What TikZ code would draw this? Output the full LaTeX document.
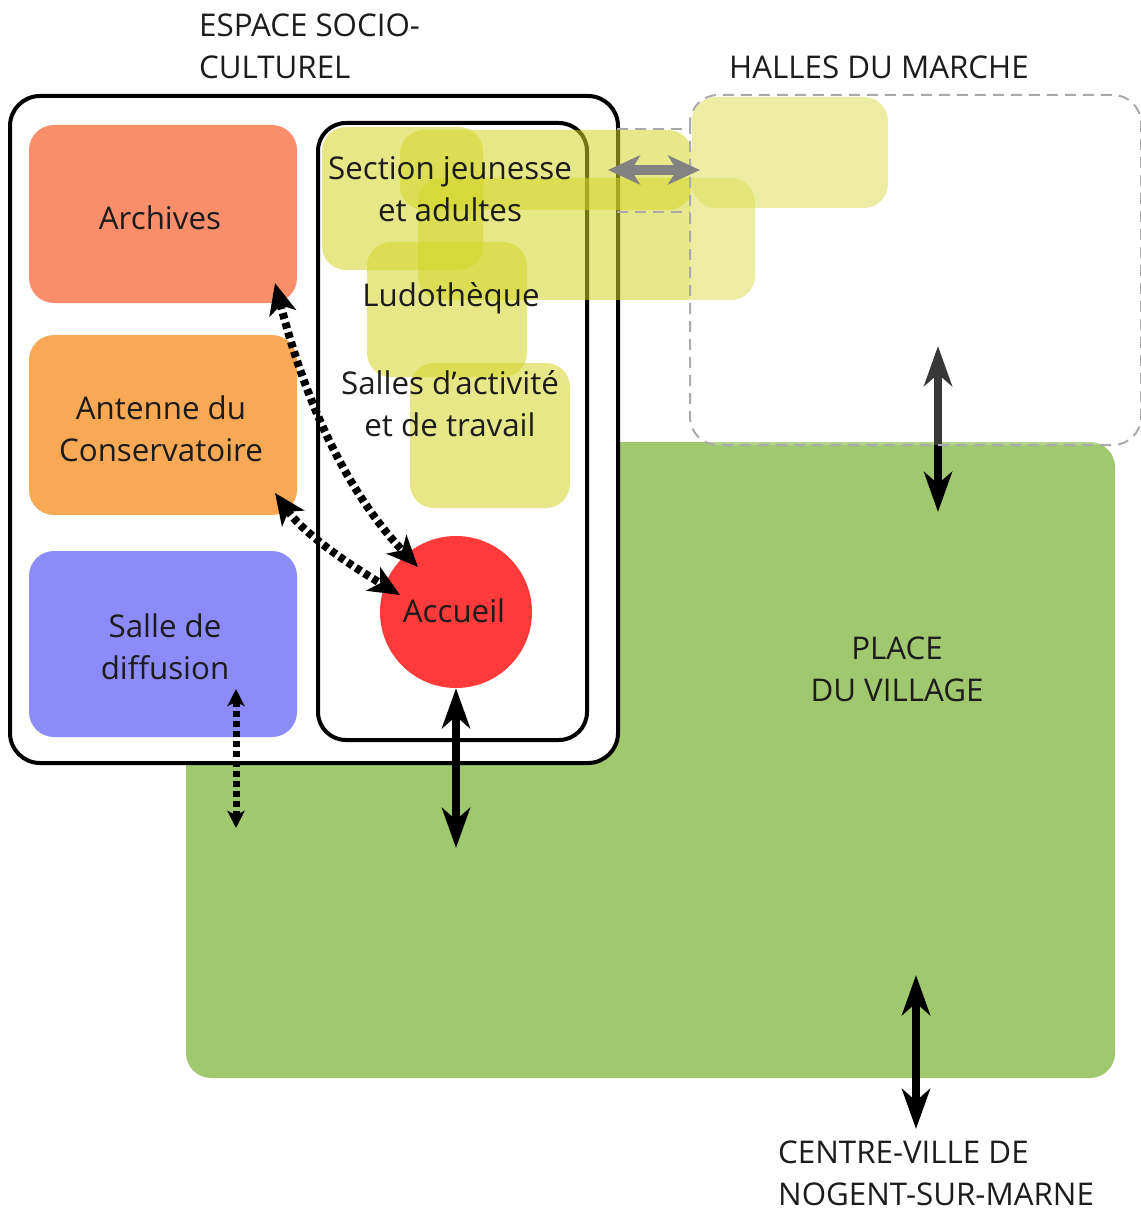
\documentclass[tikz,border=0pt]{standalone}
\usepackage{fontspec}
\setmainfont{Open Sans}
\usetikzlibrary{arrows.meta,calc}
\definecolor{placegreen}{RGB}{160,200,110}
\definecolor{archcol}{RGB}{250,142,106}
\definecolor{antcol}{RGB}{249,169,85}
\definecolor{sallecol}{RGB}{139,139,250}
\definecolor{accred}{RGB}{255,58,58}
\definecolor{yelcol}{RGB}{212,213,40}
\definecolor{dashgray}{RGB}{170,170,170}
\definecolor{arrgray}{RGB}{130,130,130}
\definecolor{txtcol}{RGB}{28,28,28}
\tikzset{
  roombox/.style={rectangle, rounded corners=25pt, inner sep=0pt},
  yelbox/.style={fill=yelcol, fill opacity=0.55, rounded corners=24pt},
  wall/.style={line width=4pt, rounded corners=30pt},
  halledash/.style={draw=dashgray, line width=2pt, dash pattern=on 11pt off 7pt},
  txt/.style={inner sep=0pt, align=center, text=txtcol},
  solidarrow/.style={line width=8.5pt, {Stealth[length=40pt,width=28pt,inset=12pt]}-{Stealth[length=40pt,width=28pt,inset=12pt]}},
  grayarrow/.style={draw=arrgray, line width=10pt, {Stealth[length=32pt,width=29pt,inset=9pt]}-{Stealth[length=32pt,width=29pt,inset=9pt]}},
  dotarrow/.style={line width=8pt, dash pattern=on 6pt off 4pt, {Stealth[length=31pt,width=27pt,inset=8pt]}-{Stealth[length=31pt,width=27pt,inset=8pt]}},
  smalldot/.style={line width=7pt, dash pattern=on 6pt off 4pt, {Stealth[length=17pt,width=17pt,inset=4pt]}-{Stealth[length=17pt,width=17pt,inset=4pt]}}
}
\begin{document}
\begin{tikzpicture}[x=1pt,y=-1pt,font=\fontsize{31.3}{42}\selectfont]
\useasboundingbox (0,0) rectangle (1140,1214);
% place du village
\fill[placegreen, rounded corners=25pt] (186,442) rectangle (1115,1078);
% espace socio-culturel
\draw[wall, fill=white] (10,96) rectangle (618,763);
\node[roombox, fill=archcol, minimum width=268pt, minimum height=178pt] (arch) at (163,214) {};
\node[roombox, fill=antcol, minimum width=268pt, minimum height=180pt] (ant) at (163,425) {};
\node[roombox, fill=sallecol, minimum width=268pt, minimum height=186pt] (salle) at (163,644) {};
\draw[wall, rounded corners=28pt] (318,123) rectangle (587,740);
\node[circle, fill=accred, minimum size=152pt, inner sep=0pt] (acc) at (456,612) {};
% dotted connectors
\coordinate (archA) at (275,283);
\coordinate (accA) at (418,567);
\coordinate (antA) at (275,493);
\coordinate (accB) at (400,595);
\coordinate (salleA) at (236,689);
\coordinate (salleB) at (236,828);
\draw[dotarrow] (archA) .. controls (305,400) and (345,490) .. (accA);
\draw[dotarrow] (antA) .. controls (305,535) and (350,565) .. (accB);
\draw[smalldot] (salleA) -- (salleB);
% yellow zones
\fill[yelbox] (322,127) rectangle (483,270);
\fill[yelbox] (400,130) rectangle (692,210);
\fill[yelbox] (418,178) rectangle (755,300);
\fill[yelbox] (367,242) rectangle (527,377);
\fill[yelbox] (410,363) rectangle (570,508);
\fill[yelbox] (692,97) rectangle (888,208);
% corridor
\draw[halledash] (617,129) -- (690,129);
\draw[halledash] (617,212) -- (690,212);
% halles arrow
\coordinate (halA) at (938,346);
\coordinate (halB) at (938,512);
\draw[solidarrow] (halA) -- (halB);
% halles du marche overlay
\draw[halledash, fill=white, fill opacity=0.22, rounded corners=28pt] (690,95) rectangle (1141,445);
\coordinate (corA) at (608,170);
\coordinate (corB) at (700,170);
\draw[grayarrow] (corA) -- (corB);
% main access arrows
\coordinate (accOut) at (456,848);
\draw[solidarrow] (acc.south) -- (accOut);
\coordinate (cvA) at (916,975);
\coordinate (cvB) at (916,1129);
\draw[solidarrow] (cvA) -- (cvB);
% texts
\node[txt] (archT) at (160,218) {Archives};
\node[txt] (antT) at (161,429) {Antenne du\\Conservatoire};
\node[txt] (salleT) at (165,647) {Salle de\\diffusion};
\node[txt] (accT) at (454,611) {Accueil};
\node[txt] (sec) at (450,189) {Section jeunesse\\et adultes};
\node[txt] (ludo) at (451,298) {Ludothèque};
\node[txt] (act) at (450,404) {Salles d’activité\\et de travail};
\node[txt] (place) at (897,669) {PLACE\\DU VILLAGE};
\node[txt, align=left, anchor=north west] (esp) at (199,14) {ESPACE SOCIO-\\CULTUREL};
\node[txt, anchor=base west] (halles) at (729,79) {HALLES DU MARCHE};
\node[txt, align=left, anchor=north west] (cv) at (778,1141) {CENTRE-VILLE DE\\NOGENT-SUR-MARNE};
\end{tikzpicture}
\end{document}
